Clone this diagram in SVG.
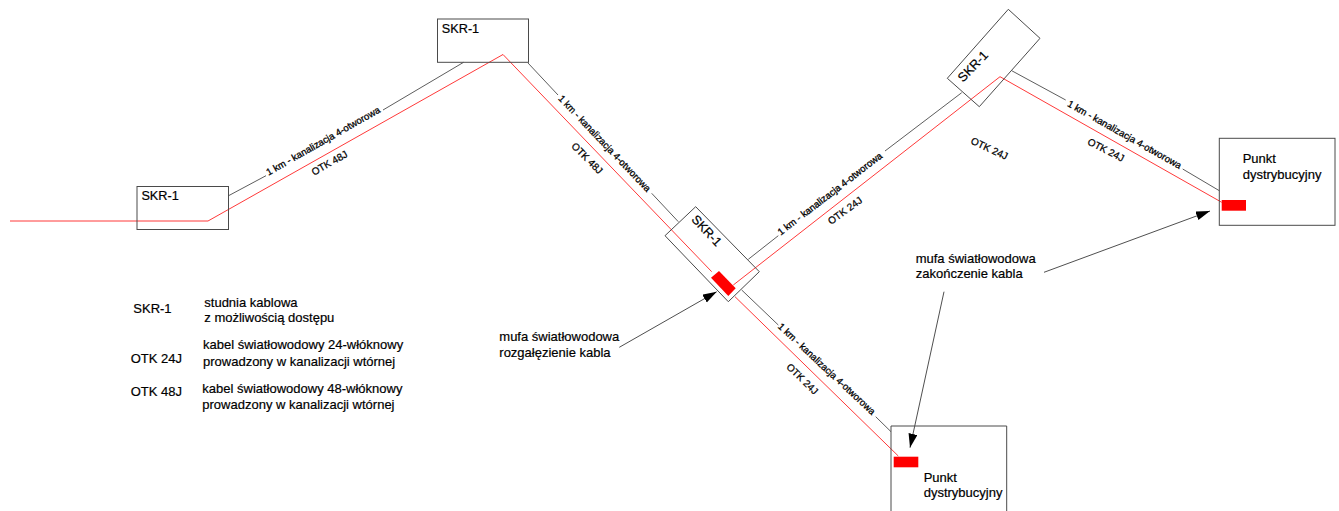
<svg xmlns="http://www.w3.org/2000/svg" width="1339" height="511" viewBox="0 0 1339 511">
<style>
text{font-family:"Liberation Sans",Arial,sans-serif;fill:#000;stroke:#000;stroke-width:.2}
.box{fill:none;stroke:#4a4a4a;stroke-width:1}
.blk{fill:none;stroke:#333;stroke-width:.8}
.red{fill:none;stroke:#f22;stroke-width:.9}
.muf{fill:#f00;stroke:none}
.arr{fill:none;stroke:#222;stroke-width:.8;marker-end:url(#ah)}
.n{font-size:12.7px}
.t{font-size:13px}
.l{font-size:9.6px;stroke-width:.3}
.o{font-size:10px;stroke-width:.25}
</style>
<defs><marker id="ah" markerUnits="userSpaceOnUse" markerWidth="15" markerHeight="10" refX="14" refY="4.5" orient="auto"><path d="M0 0L14 4.5L0 9Z" fill="#000"/></marker></defs>
<g id="connectors">
<path class="blk" d="M228.6 195.7L266 175.7M383 110L463.6 62.3M528 63L558 95M651.7 193.3L678.3 221.7M748.3 259.3L778.3 235.7M885 151L961.7 92.7M1011.7 70.7L1065.7 100M1182.7 169L1219.3 190.7M741.7 290L778.3 325M875.7 416.7L891 431.7"/>
<path class="red" d="M10 221H208L503 54.5L711.7 271.7M733.3 285L1000 76.7L1221.7 202.3M735 296.7L898.3 456"/>
<path class="arr" d="M619.3 347.3L716.7 291.7"/>
<path class="arr" d="M1044 272.3L1210 211"/>
<path class="arr" d="M944 291.7L910 447.7"/>
</g>
<g id="skr-a"><rect class="box" x="137" y="186.5" width="91.5" height="43"/><text class="n" x="141.4" y="200">SKR-1</text></g>
<g id="skr-b"><rect class="box" x="437.5" y="19" width="91" height="43.3"/><text class="n" x="441.8" y="32.7">SKR-1</text></g>
<g id="skr-c"><path class="box" d="M695.7 206.7L759.3 271.7L728.3 301.7L665 235.7Z"/><text class="n" transform="translate(690.7 220) rotate(46.6)">SKR-1</text><path class="muf" d="M719 271L735.7 288.3L728.3 296L711 277.7Z"/></g>
<g id="skr-d"><path class="box" d="M1008.3 9.3L1040 38.3L979.3 106.7L947.3 78.3Z"/><text class="n" transform="translate(963 82.7) rotate(-46)">SKR-1</text></g>
<g id="punkt-right"><rect class="box" x="1219.3" y="138.3" width="115.7" height="87"/><rect class="muf" x="1221.7" y="200" width="24.3" height="10.7"/><text class="t" x="1242.7" y="163.3">Punkt</text><text class="t" x="1242.7" y="179.3">dystrybucyjny</text></g>
<g id="punkt-bottom"><path class="box" d="M891 511V426H1006.7V511"/><rect class="muf" x="893.7" y="456.7" width="24.6" height="10.6"/><text class="t" x="923.7" y="481.7">Punkt</text><text class="t" x="923.7" y="497.3">dystrybucyjny</text></g>
<g id="duct-labels">
<text class="l" transform="translate(268.6 175.7) rotate(-29.6)">1 km - kanalizacja 4-otworowa</text>
<text class="l" transform="translate(557.7 99) rotate(46.4)">1 km - kanalizacja 4-otworowa</text>
<text class="l" transform="translate(780.7 235.7) rotate(-37.5)">1 km - kanalizacja 4-otworowa</text>
<text class="l" transform="translate(1066.7 105.7) rotate(29.4)">1 km - kanalizacja 4-otworowa</text>
<text class="l" transform="translate(777.3 327.3) rotate(43)">1 km - kanalizacja 4-otworowa</text>
</g>
<g id="cable-labels">
<text class="o" transform="translate(314 175.7) rotate(-29.6)">OTK 48J</text>
<text class="o" transform="translate(570.7 146.7) rotate(45)">OTK 48J</text>
<text class="o" transform="translate(831 225) rotate(-36)">OTK 24J</text>
<text class="o" transform="translate(970 143.3) rotate(25)">OTK 24J</text>
<text class="o" transform="translate(1086.7 144) rotate(27)">OTK 24J</text>
<text class="o" transform="translate(785.7 367.7) rotate(44)">OTK 24J</text>
</g>
<g id="callouts">
<text class="t" x="499.3" y="341">mufa światłowodowa</text>
<text class="t" x="499.3" y="357.3">rozgałęzienie kabla</text>
<text class="t" x="915.7" y="262.7">mufa światłowodowa</text>
<text class="t" x="915.7" y="277.7">zakończenie kabla</text>
</g>
<g id="legend">
<text class="t" x="133.3" y="312.7">SKR-1</text>
<text class="t" x="204.3" y="307">studnia kablowa</text>
<text class="t" x="204.3" y="322.3">z możliwością dostępu</text>
<text class="t" x="130.7" y="363.3">OTK 24J</text>
<text class="t" x="203" y="349.3">kabel światłowodowy 24-włóknowy</text>
<text class="t" x="203" y="366">prowadzony w kanalizacji wtórnej</text>
<text class="t" x="130.7" y="395.7">OTK 48J</text>
<text class="t" x="202.3" y="392.7">kabel światłowodowy 48-włóknowy</text>
<text class="t" x="202.3" y="409.3">prowadzony w kanalizacji wtórnej</text>
</g>
</svg>
